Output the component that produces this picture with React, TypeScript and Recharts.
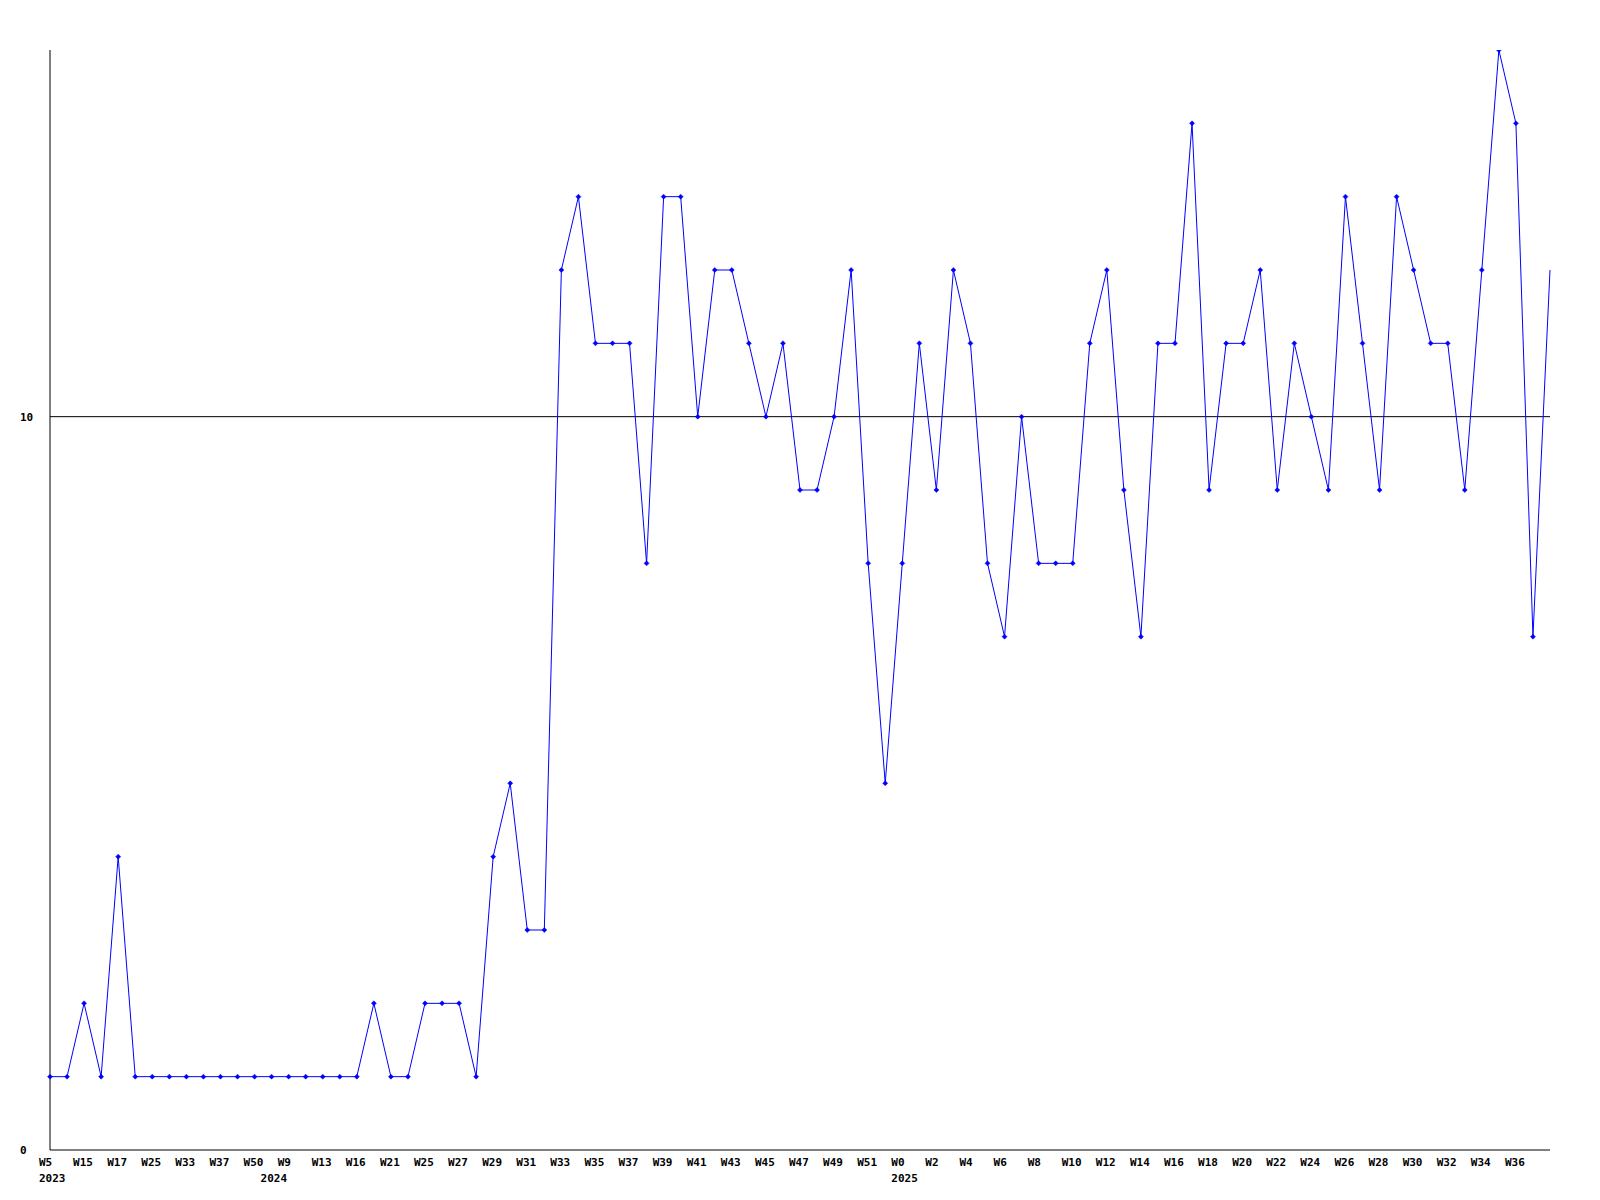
import React from "react";
import { LineChart, Line, XAxis, YAxis, ReferenceLine } from "recharts";

// ==================== DATA ====================
const weeks = [
  "W5", "W10", "W15", "W16", "W17", "W20", "W25", "W30", "W33", "W35",
  "W37", "W45", "W50", "W1", "W9", "W11", "W13", "W14", "W16", "W19",
  "W21", "W23", "W25", "W26", "W27", "W28", "W29", "W30", "W31", "W32",
  "W33", "W34", "W35", "W36", "W37", "W38", "W39", "W40", "W41", "W42",
  "W43", "W44", "W45", "W46", "W47", "W48", "W49", "W50", "W51", "W52",
  "W0", "W1", "W2", "W3", "W4", "W5", "W6", "W7", "W8", "W9",
  "W10", "W11", "W12", "W13", "W14", "W15", "W16", "W17", "W18", "W19",
  "W20", "W21", "W22", "W23", "W24", "W25", "W26", "W27", "W28", "W29",
  "W30", "W31", "W32", "W33", "W34", "W35", "W36", "W37", "W38",
];

const yearLabels: Record<number, string> = { 0: "2023", 13: "2024", 50: "2025" };

const counts = [
  1, 1, 2, 1, 4, 1, 1, 1, 1, 1,
  1, 1, 1, 1, 1, 1, 1, 1, 1, 2,
  1, 1, 2, 2, 2, 1, 4, 5, 3, 3,
  12, 13, 11, 11, 11, 8, 13, 13, 10, 12,
  12, 11, 10, 11, 9, 9, 10, 12, 8, 5,
  8, 11, 9, 12, 11, 8, 7, 10, 8, 8,
  8, 11, 12, 9, 7, 11, 11, 14, 9, 11,
  11, 12, 9, 11, 10, 9, 13, 11, 9, 13,
  12, 11, 11, 9, 12, 15, 14, 7, 12,
];

const yTicks = [0, 10];

const data = weeks.map((w, i) => ({ idx: i, week: w, value: counts[i] }));

const FONT = "'DejaVu Sans Mono', monospace";

// ==================== TICKS ====================
function WeekTick(props: any) {
  const { x, y, payload } = props;
  const i = Number(payload.value);
  // every other week is labelled, the last (partial) week is not
  const showWeek = i % 2 === 0 && i < weeks.length - 1;
  const year = yearLabels[i];
  return (
    <g>
      {showWeek && (
        <text x={x - 11} y={y + 14} fontSize={11} fontWeight="bold" fontFamily={FONT} fill="#000" textAnchor="start">
          {weeks[i]}
        </text>
      )}
      {year && (
        <text x={x - 11} y={y + 30} fontSize={11} fontWeight="bold" fontFamily={FONT} fill="#000" textAnchor="start">
          {year}
        </text>
      )}
    </g>
  );
}

function CountTick(props: any) {
  const { y, payload } = props;
  return (
    <text x={20} y={y + 4} fontSize={11} fontWeight="bold" fontFamily={FONT} fill="#000" textAnchor="start">
      {payload.value}
    </text>
  );
}

function Marker(props: any) {
  const { cx, cy, index } = props;
  if (index === counts.length - 1 || cx == null) return <g key={index} />;
  return (
    <path
      key={index}
      d={`M${cx},${cy - 2.5} L${cx + 2.5},${cy} L${cx},${cy + 2.5} L${cx - 2.5},${cy} Z`}
      fill="#0000ff"
      stroke="#0000ff"
      strokeWidth={0.5}
    />
  );
}

// ==================== CHART ====================
export default function App() {
  return (
    <div style={{ position: "absolute", left: 0, top: 0, background: "#fff" }}>
      <LineChart width={1600} height={1200} data={data} margin={{ top: 50, right: 50, left: 0, bottom: 0 }}>
        <XAxis
          dataKey="idx"
          type="category"
          interval={0}
          tick={<WeekTick />}
          tickLine={false}
          tickSize={0}
          axisLine={{ stroke: "#000" }}
          height={50}
          padding={{ left: 0, right: 0 }}
        />
        <YAxis
          domain={[0, 15]}
          ticks={yTicks}
          tick={<CountTick />}
          tickLine={false}
          axisLine={{ stroke: "#000" }}
          width={50}
          allowDataOverflow
        />
        <ReferenceLine y={10} stroke="#000" strokeWidth={1} />
        <Line
          type="linear"
          dataKey="value"
          stroke="#0000ff"
          strokeWidth={1}
          dot={<Marker />}
          activeDot={false}
          isAnimationActive={false}
        />
      </LineChart>
    </div>
  );
}
